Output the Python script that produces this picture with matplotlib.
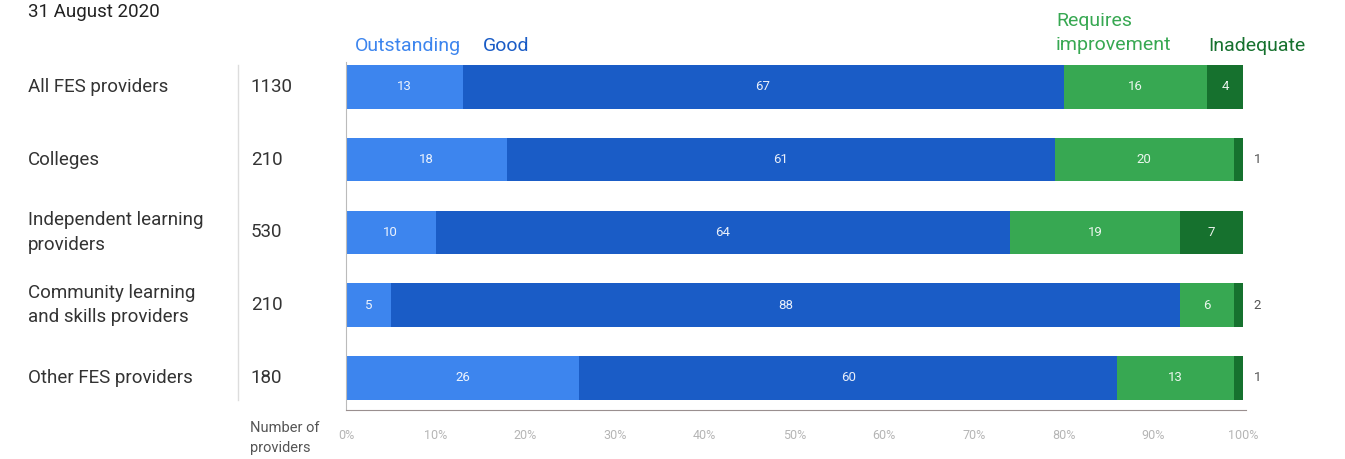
import numpy as np
import matplotlib.pyplot as plt

plt.rcParams['font.family'] = ['Roboto', 'DejaVu Sans']

# data
groups = ["All FES providers", "Colleges", "Independent learning\nproviders",
          "Community learning\nand skills providers", "Other FES providers"]
counts = ["1130", "210", "530", "210", "180"]
outstanding = [13, 18, 10, 5, 26]
good = [67, 61, 64, 88, 60]
requires_improvement = [16, 20, 19, 6, 13]
inadequate = [4, 1, 7, 2, 1]
series_names = ["Outstanding", "Good", "Requires\nimprovement", "Inadequate"]
ticks = [0, 10, 20, 30, 40, 50, 60, 70, 80, 90, 100]

colors = ["#3d85ee", "#1a5cc6", "#37a852", "#16712e"]

fig = plt.figure(figsize=(13.45, 4.59), dpi=100)
ax = fig.add_axes([346 / 1345, 49 / 459, 897 / 1345, 348 / 459])

y = np.arange(len(groups))
left = np.zeros(len(groups))
series = [outstanding, good, requires_improvement, inadequate]
for vals, col in zip(series, colors):
    vals = np.array(vals)
    ax.barh(y, vals, left=left, height=0.6, color=col)
    for yi, l, v in zip(y, left, vals):
        if v >= 3:
            ax.text(l + v / 2, yi, str(v), color="white", fontsize=9.5,
                    ha="center", va="center", alpha=0.9)
        else:
            ax.text(101.2, yi, str(v), color="#555555", fontsize=9.5,
                    ha="left", va="center")
    left = left + vals

ax.set_xlim(0, 100)
ax.set_ylim(4.44, -0.34)
ax.set_yticks([])
ax.set_xticks(ticks)
ax.set_xticklabels([f"{t}%" for t in ticks], color="#b5b5b5", fontsize=9)
ax.tick_params(axis="x", length=0, pad=14)
for s in ["top", "right"]:
    ax.spines[s].set_visible(False)
ax.spines["left"].set_color("#bbbbbb")
ax.spines["bottom"].set_color("#9a8f8f")
ax.spines["bottom"].set_bounds(0, 100.3)

# left text
for yi, g, c in zip(y, groups, counts):
    ax.text(-35.5, yi, g, fontsize=13.5, color="#333333", ha="left", va="center",
            linespacing=1.45)
    ax.text(-10.6, yi, c, fontsize=13.5, color="#333333", ha="left", va="center")
fig.add_artist(plt.Line2D([238 / 1345, 238 / 1345], [1 - 400 / 459, 1 - 65 / 459],
                          color="#dddddd", lw=1))

fig.text(28 / 1345, 1 - 12 / 459, "31 August 2020", fontsize=13.5, color="#222222",
         ha="left", va="center")
fig.text(250 / 1345, 1 - 438 / 459, "Number of\nproviders", fontsize=10.5,
         color="#555555", ha="left", va="center", linespacing=1.55)

# series headers
fig.text(355 / 1345, 1 - 46 / 459, series_names[0], fontsize=14, color=colors[0],
         ha="left", va="center")
fig.text(483 / 1345, 1 - 46 / 459, series_names[1], fontsize=14, color=colors[1],
         ha="left", va="center")
fig.text(1056 / 1345, 1 - 33 / 459, series_names[2], fontsize=14, color=colors[2],
         ha="left", va="center", linespacing=1.45)
fig.text(1208 / 1345, 1 - 46 / 459, series_names[3], fontsize=14, color=colors[3],
         ha="left", va="center")

fig.savefig("out.png", dpi=100)
